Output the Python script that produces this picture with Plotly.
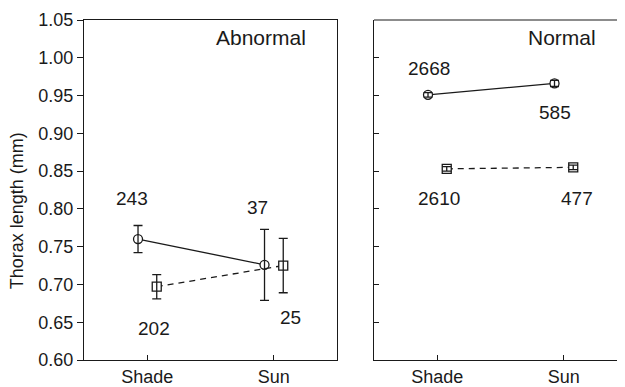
import plotly.graph_objects as go

# ---- data ----
categories = ["Shade", "Sun"]
abn_circle = [0.760, 0.726]
abn_circle_err = [0.018, 0.047]
abn_square = [0.697, 0.725]
abn_square_err = [0.016, 0.036]
norm_circle = [0.951, 0.966]
norm_circle_err = [0.003, 0.004]
norm_square = [0.853, 0.855]
norm_square_err = [0.003, 0.003]
abn_circle_n = ["243", "37"]
abn_square_n = ["202", "25"]
norm_circle_n = ["2668", "585"]
norm_square_n = ["2610", "477"]
y_ticks = [0.60, 0.65, 0.70, 0.75, 0.80, 0.85, 0.90, 0.95, 1.00, 1.05]

# ---- style ----
INK = "#1a1a1a"
FONT = "Liberation Sans, Arial, Helvetica, sans-serif"
C_OFF, S_OFF = -0.073, 0.075

fig = go.Figure()


def add_series(vals, errs, off, symbol, dash, xa, ya):
    xs = [i + off for i in range(len(vals))]
    fig.add_trace(go.Scatter(
        x=xs, y=vals, mode="lines+markers", xaxis=xa, yaxis=ya,
        line=dict(color=INK, width=1.3, dash=dash),
        marker=dict(symbol=symbol, size=9, color="white",
                    line=dict(color=INK, width=1.3)),
        showlegend=False, hoverinfo="skip"))
    fig.add_trace(go.Scatter(
        x=xs, y=vals, mode="markers", xaxis=xa, yaxis=ya,
        marker=dict(size=1, color="rgba(0,0,0,0)"),
        error_y=dict(type="data", array=errs, visible=True, color=INK,
                     thickness=1.3, width=4.5),
        showlegend=False, hoverinfo="skip"))


add_series(abn_circle, abn_circle_err, C_OFF, "circle", "solid", "x", "y")
add_series(abn_square, abn_square_err, S_OFF, "square", "6px,5px", "x", "y")
add_series(norm_circle, norm_circle_err, C_OFF, "circle", "solid", "x2", "y2")
add_series(norm_square, norm_square_err, S_OFF, "square", "6px,5px", "x2", "y2")

ann = []


def add_labels(labels, vals, xshifts, yshifts, xr, yr):
    for i, (t, v) in enumerate(zip(labels, vals)):
        ann.append(dict(x=i, y=v, xref=xr, yref=yr, text=t, showarrow=False,
                        xshift=xshifts[i], yshift=yshifts[i],
                        font=dict(size=19, color=INK, family=FONT)))


add_labels(abn_circle_n, abn_circle, [-15, -16], [41, 57], "x", "y")
add_labels(abn_square_n, abn_square, [7, 17], [-42, -52], "x", "y")
add_labels(norm_circle_n, norm_circle, [-8, -9], [26, -29], "x2", "y2")
add_labels(norm_square_n, norm_square, [2, 13], [-30, -31], "x2", "y2")

ann.append(dict(x=0.90, y=1.027, xref="x", yref="y", text="Abnormal",
                showarrow=False, font=dict(size=21, color=INK, family=FONT)))
ann.append(dict(x=0.985, y=1.027, xref="x2", yref="y2", text="Normal",
                showarrow=False, font=dict(size=21, color=INK, family=FONT)))
ann.append(dict(x=-0.124, y=0.44, xref="paper", yref="paper",
                text="Thorax length (mm)", textangle=-90, showarrow=False,
                xanchor="center", yanchor="middle",
                font=dict(size=18, color=INK, family=FONT)))

# page has an 8px body margin, so the figure is drawn 8px in from the corner
W, H = 617, 379
L, R, T, B = 76, 0, 12, 22
pw = W - L - R

axis_common = dict(showgrid=False, zeroline=False, showline=True,
                   linecolor=INK, linewidth=1.2, ticks="inside", ticklen=5,
                   tickcolor=INK, tickwidth=1.2,
                   tickfont=dict(size=18, color=INK, family=FONT))

fig.update_layout(
    width=W, height=H,
    margin=dict(l=L, r=R, t=T, b=B),
    plot_bgcolor="white", paper_bgcolor="white",
    font=dict(family=FONT, color=INK),
    annotations=ann,
    xaxis=dict(axis_common, domain=[0, 253 / pw], range=[-0.5, 1.5],
               tickvals=[0, 1], ticktext=categories, mirror=True,
               anchor="y"),
    yaxis=dict(axis_common, range=[0.60, 1.05], tickvals=y_ticks,
               tickformat=".2f", ticks="outside", ticklen=6, mirror=True,
               anchor="x"),
    xaxis2=dict(axis_common, domain=[290 / pw, 1],
                range=[-0.5, 1.5 - 2 / 127],
                tickvals=[0, 1], ticktext=categories, mirror=False,
                anchor="y2"),
    yaxis2=dict(axis_common, range=[0.60, 1.05], tickvals=y_ticks,
                showticklabels=False, ticks="inside", ticklen=5,
                mirror=False, anchor="x2"),
)
# top line for right panel
fig.add_shape(type="line", xref="x2 domain", yref="y2 domain",
              x0=0, x1=1, y0=1, y1=1, line=dict(color=INK, width=1.2))

fig.write_html("out.html")
